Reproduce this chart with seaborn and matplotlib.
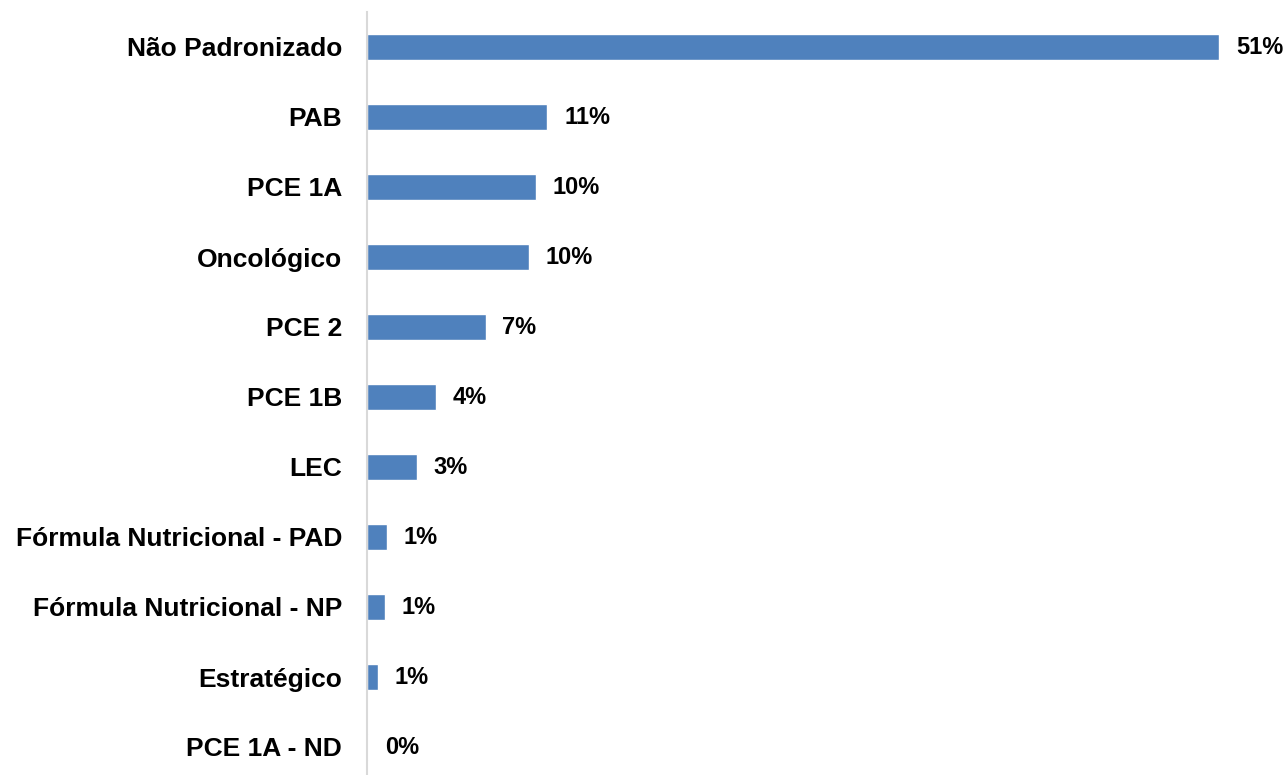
import numpy as np
import pandas as pd
import matplotlib.pyplot as plt
import seaborn as sns

# ----- data -----
categorias = ['Não Padronizado', 'PAB', 'PCE 1A', 'Oncológico', 'PCE 2', 'PCE 1B', 'LEC',
              'Fórmula Nutricional - PAD', 'Fórmula Nutricional - NP', 'Estratégico', 'PCE 1A - ND']
percentuais = [51.0, 10.8, 10.1, 9.7, 7.1, 4.1, 3.0, 1.2, 1.05, 0.65, 0.06]

df = pd.DataFrame({'categoria': categorias, 'percentual': percentuais})

sns.set_theme(style='white')
plt.rcParams['font.family'] = ['Liberation Sans', 'DejaVu Sans']

fig = plt.figure(figsize=(12.86, 7.75), dpi=100)
ax = fig.add_axes([0.2854, 0.0, 0.948 - 0.2854, 1 - 12 / 775])

sns.barplot(data=df, x='percentual', y='categoria', orient='h', color='#4F81BD',
            saturation=1, width=0.36, ax=ax)

for i, v in enumerate(percentuais):
    ax.annotate(f'{v:.0f}%', xy=(v, i), xytext=(12, 0), textcoords='offset points',
                va='center', ha='left', fontsize=17, fontweight='bold', color='black',
                annotation_clip=False)

ax.set_xlim(0, 51)
ax.set_ylim(10.4, -0.5)
ax.set_xlabel(''); ax.set_ylabel('')
ax.set_xticks([])
ax.tick_params(axis='y', length=0, pad=18, labelsize=19)
for lbl in ax.get_yticklabels():
    lbl.set_fontweight('bold')
    lbl.set_color('black')

for edge in ['top', 'right', 'bottom']:
    ax.spines[edge].set_visible(False)
ax.spines['left'].set_color('#D9D9D9')
ax.spines['left'].set_linewidth(1.5)

fig.savefig('out.png', dpi=100)
